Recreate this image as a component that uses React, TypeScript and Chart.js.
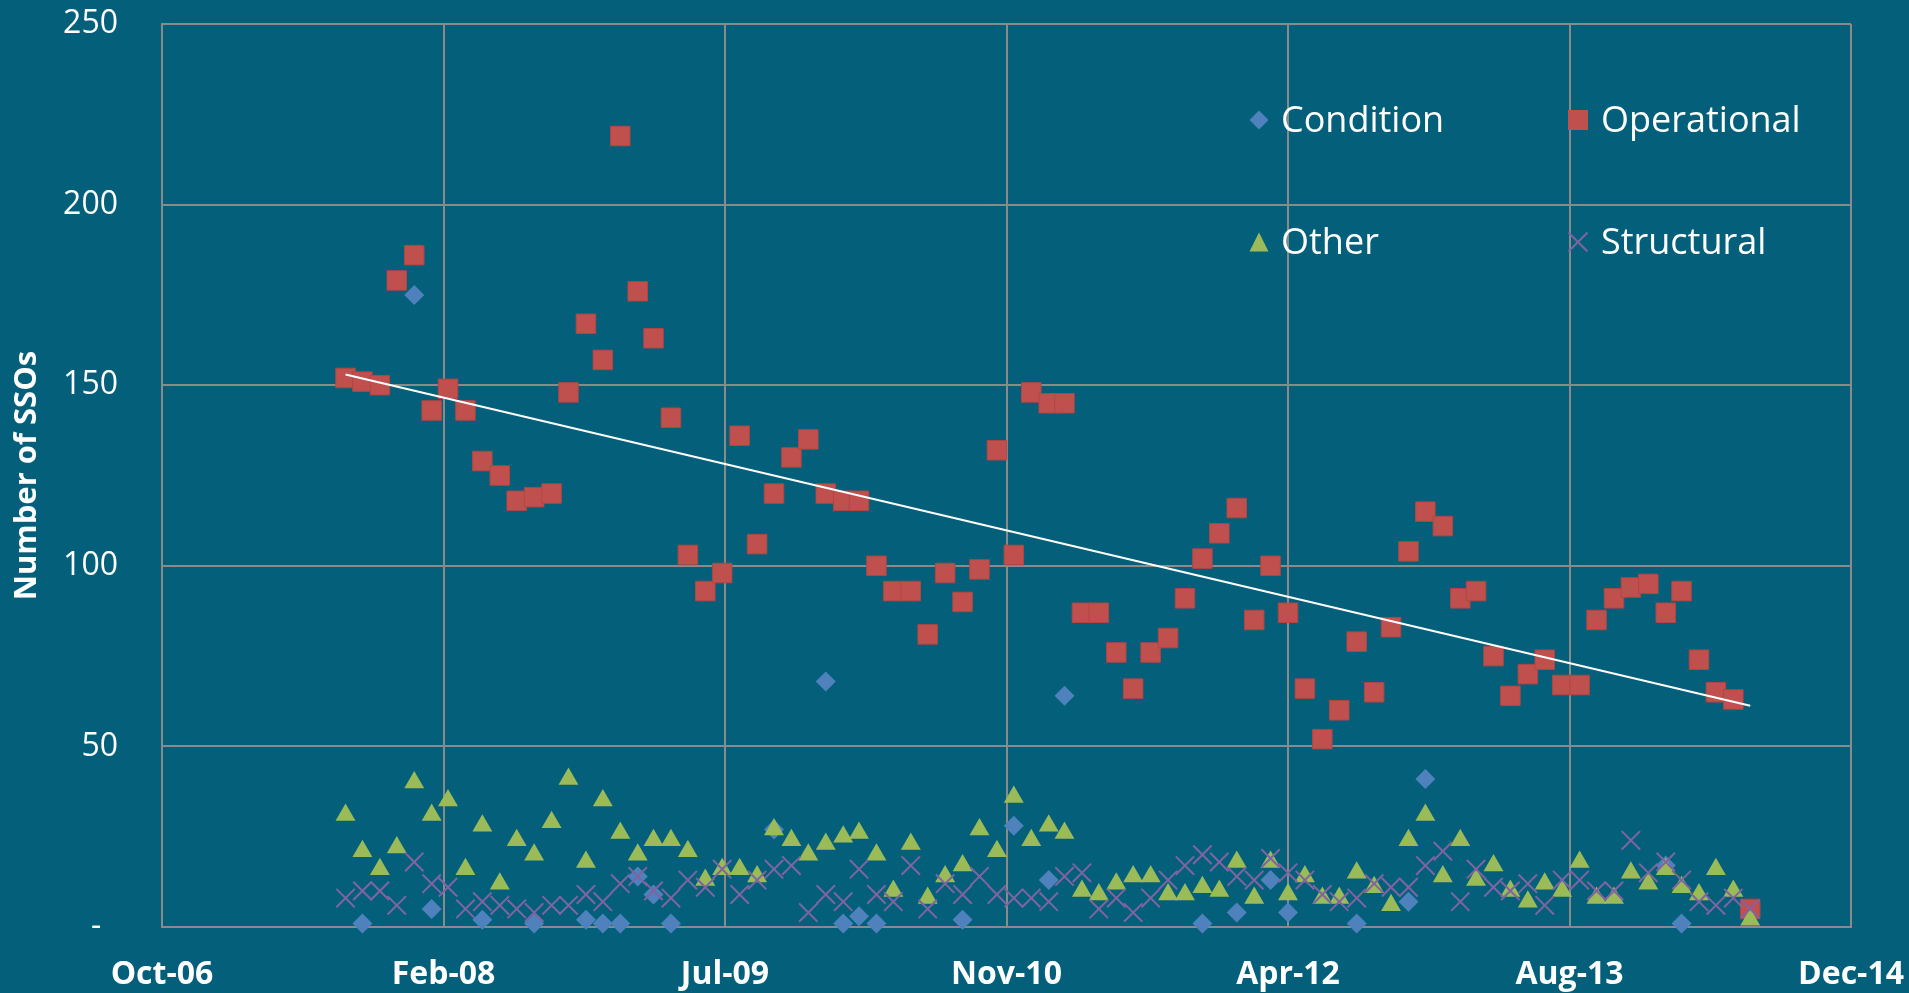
import React, { useEffect, useRef } from "react";
import { Chart, registerables } from "chart.js";

Chart.register(...registerables);

// Month of each observation (first day of the month)
const months: string[] = [
  "2007-09", "2007-10", "2007-11", "2007-12",
  "2008-01", "2008-02", "2008-03", "2008-04", "2008-05", "2008-06", "2008-07", "2008-08", "2008-09", "2008-10", "2008-11", "2008-12",
  "2009-01", "2009-02", "2009-03", "2009-04", "2009-05", "2009-06", "2009-07", "2009-08", "2009-09", "2009-10", "2009-11", "2009-12",
  "2010-01", "2010-02", "2010-03", "2010-04", "2010-05", "2010-06", "2010-07", "2010-08", "2010-09", "2010-10", "2010-11", "2010-12",
  "2011-01", "2011-02", "2011-03", "2011-04", "2011-05", "2011-06", "2011-07", "2011-08", "2011-09", "2011-10", "2011-11", "2011-12",
  "2012-01", "2012-02", "2012-03", "2012-04", "2012-05", "2012-06", "2012-07", "2012-08", "2012-09", "2012-10", "2012-11", "2012-12",
  "2013-01", "2013-02", "2013-03", "2013-04", "2013-05", "2013-06", "2013-07", "2013-08", "2013-09", "2013-10", "2013-11", "2013-12",
  "2014-01", "2014-02", "2014-03", "2014-04", "2014-05", "2014-06", "2014-07",
];

const condition: (number | null)[] = [
  null, 1, null, null, 175, 5, null, null, 2, null,
  null, 1, null, null, 2, 1, 1, 14, 9, 1,
  null, null, null, null, null, 27, null, null, 68, 1,
  3, 1, null, null, null, null, 2, null, null, 28,
  null, 13, 64, null, null, null, null, null, null, null,
  1, null, 4, null, 13, 4, null, null, null, 1,
  null, null, 7, 41, null, null, null, null, null, null,
  null, null, null, null, null, null, null, 17, 1, null,
  null, null, null,
];

const operational: number[] = [
  152, 151, 150, 179, 186, 143, 149, 143, 129, 125,
  118, 119, 120, 148, 167, 157, 219, 176, 163, 141,
  103, 93, 98, 136, 106, 120, 130, 135, 120, 118,
  118, 100, 93, 93, 81, 98, 90, 99, 132, 103,
  148, 145, 145, 87, 87, 76, 66, 76, 80, 91,
  102, 109, 116, 85, 100, 87, 66, 52, 60, 79,
  65, 83, 104, 115, 111, 91, 93, 75, 64, 70,
  74, 67, 67, 85, 91, 94, 95, 87, 93, 74,
  65, 63, 5,
];

const other: number[] = [
  31, 21, 16, 22, 40, 31, 35, 16, 28, 12,
  24, 20, 29, 41, 18, 35, 26, 20, 24, 24,
  21, 13, 16, 16, 14, 27, 24, 20, 23, 25,
  26, 20, 10, 23, 8, 14, 17, 27, 21, 36,
  24, 28, 26, 10, 9, 12, 14, 14, 9, 9,
  11, 10, 18, 8, 18, 9, 14, 8, 8, 15,
  11, 6, 24, 31, 14, 24, 13, 17, 10, 7,
  12, 10, 18, 8, 8, 15, 12, 16, 11, 9,
  16, 10, 2,
];

const structural: number[] = [
  8, 10, 10, 6, 18, 12, 11, 5, 7, 6,
  5, 4, 6, 6, 9, 7, 12, 14, 10, 8,
  13, 11, 16, 9, 13, 16, 17, 4, 9, 7,
  16, 9, 7, 17, 5, 12, 9, 14, 9, 8,
  8, 7, 14, 15, 5, 8, 4, 8, 13, 17,
  20, 18, 14, 13, 19, 15, 13, 9, 7, 8,
  12, 11, 11, 17, 21, 7, 16, 11, 10, 12,
  6, 13, 13, 10, 10, 24, 15, 18, 13, 7,
  6, 8, 5,
];

// Axis range (Excel date serials) and tick values
const X_MIN = 39000;
const X_MAX = 42000;
const X_STEP = 500;
const Y_MIN = 0;
const Y_MAX = 250;
const Y_STEP = 50;
const yTitle = "Number of SSOs";
const seriesNames = ["Condition", "Operational", "Other", "Structural"];

const COLORS = {
  bg: "#04607A",
  grid: "#8A8A8A",
  condition: "#4F81BD",
  operational: "#C0504D",
  other: "#9BBB59",
  structural: "#8064A2",
};

const EXCEL_EPOCH = Date.UTC(1899, 11, 30);
const MON = ["Jan", "Feb", "Mar", "Apr", "May", "Jun", "Jul", "Aug", "Sep", "Oct", "Nov", "Dec"];
const toSerial = (ym: string) => {
  const [y, m] = ym.split("-").map(Number);
  return (Date.UTC(y, m - 1, 1) - EXCEL_EPOCH) / 86400000;
};
const serialLabel = (s: number) => {
  const d = new Date(EXCEL_EPOCH + s * 86400000);
  return MON[d.getUTCMonth()] + "-" + String(d.getUTCFullYear()).slice(2);
};

export default function App() {
  const ref = useRef<HTMLCanvasElement | null>(null);

  useEffect(() => {
    if (!ref.current) return;
    const xs = months.map(toSerial);
    const pts = (arr: (number | null)[]) =>
      arr
        .map((v, i) => ({ x: xs[i], y: v }))
        .filter((p) => p.y !== null && p.y !== undefined) as { x: number; y: number }[];

    // linear trend of the operational series (least squares)
    const n = operational.length;
    let sx = 0, sy = 0, sxx = 0, sxy = 0;
    operational.forEach((v, i) => {
      sx += xs[i];
      sy += v;
      sxx += xs[i] * xs[i];
      sxy += xs[i] * v;
    });
    const slope = (n * sxy - sx * sy) / (n * sxx - sx * sx);
    const icpt = (sy - slope * sx) / n;
    const trend = [
      { x: xs[0], y: icpt + slope * xs[0] },
      { x: xs[n - 1], y: icpt + slope * xs[n - 1] },
    ];

    const font = "'Open Sans', 'DejaVu Sans', sans-serif";

    const chart = new Chart(ref.current, {
      type: "scatter",
      data: {
        datasets: [
          {
            label: seriesNames[0],
            data: pts(condition),
            pointStyle: "rectRot",
            pointRadius: 10,
            backgroundColor: COLORS.condition,
            borderColor: COLORS.condition,
            borderWidth: 0,
            order: 5,
            clip: false,
          },
          {
            label: seriesNames[1],
            data: pts(operational),
            pointStyle: "rect",
            pointRadius: 13.8,
            backgroundColor: COLORS.operational,
            borderColor: "#B04643",
            borderWidth: 1,
            order: 4,
            clip: false,
          },
          {
            label: seriesNames[2],
            data: pts(other),
            pointStyle: "triangle",
            pointRadius: 11.5,
            backgroundColor: COLORS.other,
            borderColor: COLORS.other,
            borderWidth: 0,
            order: 3,
            clip: false,
          },
          {
            label: seriesNames[3],
            data: pts(structural),
            pointStyle: "crossRot",
            pointRadius: 13,
            backgroundColor: COLORS.structural,
            borderColor: COLORS.structural,
            borderWidth: 2,
            order: 2,
            clip: false,
          },
          {
            label: "Trend",
            data: trend,
            showLine: true,
            pointRadius: 0,
            borderColor: "#FFFFFF",
            borderWidth: 2,
            order: 1,
            clip: false,
          } as any,
        ],
      },
      options: {
        animation: false,
        responsive: false,
        maintainAspectRatio: false,
        events: [],
        layout: { padding: { left: 0, right: 58, top: 24, bottom: 0 } },
        plugins: { legend: { display: false }, tooltip: { enabled: false } },
        scales: {
          x: {
            type: "linear",
            min: X_MIN,
            max: X_MAX,
            afterBuildTicks: (s: any) => {
              const t = [];
              for (let v = X_MIN; v <= X_MAX; v += X_STEP) t.push({ value: v });
              s.ticks = t;
            },
            ticks: {
              callback: (v: any) => serialLabel(Number(v)),
              color: "#FFFFFF",
              font: { family: font, size: 32, weight: "bold" },
              padding: 0,
              maxRotation: 0,
              autoSkip: false,
            },
            grid: {
              color: COLORS.grid,
              lineWidth: 2,
              drawTicks: true,
              tickLength: 29,
              tickColor: "rgba(0,0,0,0)",
            },
            border: { color: COLORS.grid, width: 2 },
            afterFit: (s: any) => {
              s.height = 66;
            },
          },
          y: {
            min: Y_MIN,
            max: Y_MAX,
            ticks: {
              stepSize: Y_STEP,
              callback: (v: any) => (Number(v) === 0 ? "-  " : String(v)),
              color: "#FFFFFF",
              font: { family: font, size: 32 },
              padding: 0,
            },
            grid: {
              color: COLORS.grid,
              lineWidth: 2,
              drawTicks: true,
              tickLength: 44,
              tickColor: "rgba(0,0,0,0)",
            },
            border: { color: COLORS.grid, width: 2 },
            title: {
              display: true,
              text: yTitle,
              color: "#FFFFFF",
              font: { family: font, size: 31, weight: "bold" },
              padding: { top: 9, bottom: 0 },
            },
            afterFit: (s: any) => {
              s.width = 162;
            },
          },
        },
      } as any,
    });
    return () => chart.destroy();
  }, []);

  const legendFont = "'Open Sans', 'DejaVu Sans', sans-serif";
  const textStyle = (left: number, cy: number): React.CSSProperties => ({
    position: "absolute",
    left,
    top: cy - 19,
    fontFamily: legendFont,
    fontSize: 36,
    lineHeight: "36px",
    color: "#FFFFFF",
    whiteSpace: "nowrap",
  });
  const iconStyle = (cx: number, cy: number): React.CSSProperties => ({
    position: "absolute",
    left: cx - 11,
    top: cy - 11,
    width: 22,
    height: 22,
  });

  const row1 = 120;
  const row2 = 242;
  const col1 = 1259;
  const col2 = 1578;

  return (
    <div
      style={{
        position: "fixed",
        left: 0,
        top: 0,
        width: 1909,
        height: 993,
        background: COLORS.bg,
        overflow: "hidden",
      }}
    >
      <canvas
        ref={ref}
        width={1909}
        height={993}
        style={{ position: "absolute", left: 0, top: 0, width: 1909, height: 993 }}
      />
      <svg style={iconStyle(col1, row1)} viewBox="0 0 22 22">
        <polygon points="11,1.5 20.5,11 11,20.5 1.5,11" fill={COLORS.condition} />
      </svg>
      <div style={textStyle(col1 + 22, row1)}>{seriesNames[0]}</div>
      <svg style={iconStyle(col2, row1)} viewBox="0 0 22 22">
        <rect x="1" y="1" width="20" height="20" fill={COLORS.operational} />
      </svg>
      <div style={textStyle(col2 + 23, row1)}>{seriesNames[1]}</div>
      <svg style={iconStyle(col1, row2)} viewBox="0 0 22 22">
        <polygon points="11,1.5 20.5,20.5 1.5,20.5" fill={COLORS.other} />
      </svg>
      <div style={textStyle(col1 + 22, row2)}>{seriesNames[2]}</div>
      <svg style={iconStyle(col2, row2)} viewBox="0 0 22 22">
        <line x1="1.5" y1="1.5" x2="20.5" y2="20.5" stroke={COLORS.structural} strokeWidth="2" />
        <line x1="20.5" y1="1.5" x2="1.5" y2="20.5" stroke={COLORS.structural} strokeWidth="2" />
      </svg>
      <div style={textStyle(col2 + 23, row2)}>{seriesNames[3]}</div>
    </div>
  );
}
